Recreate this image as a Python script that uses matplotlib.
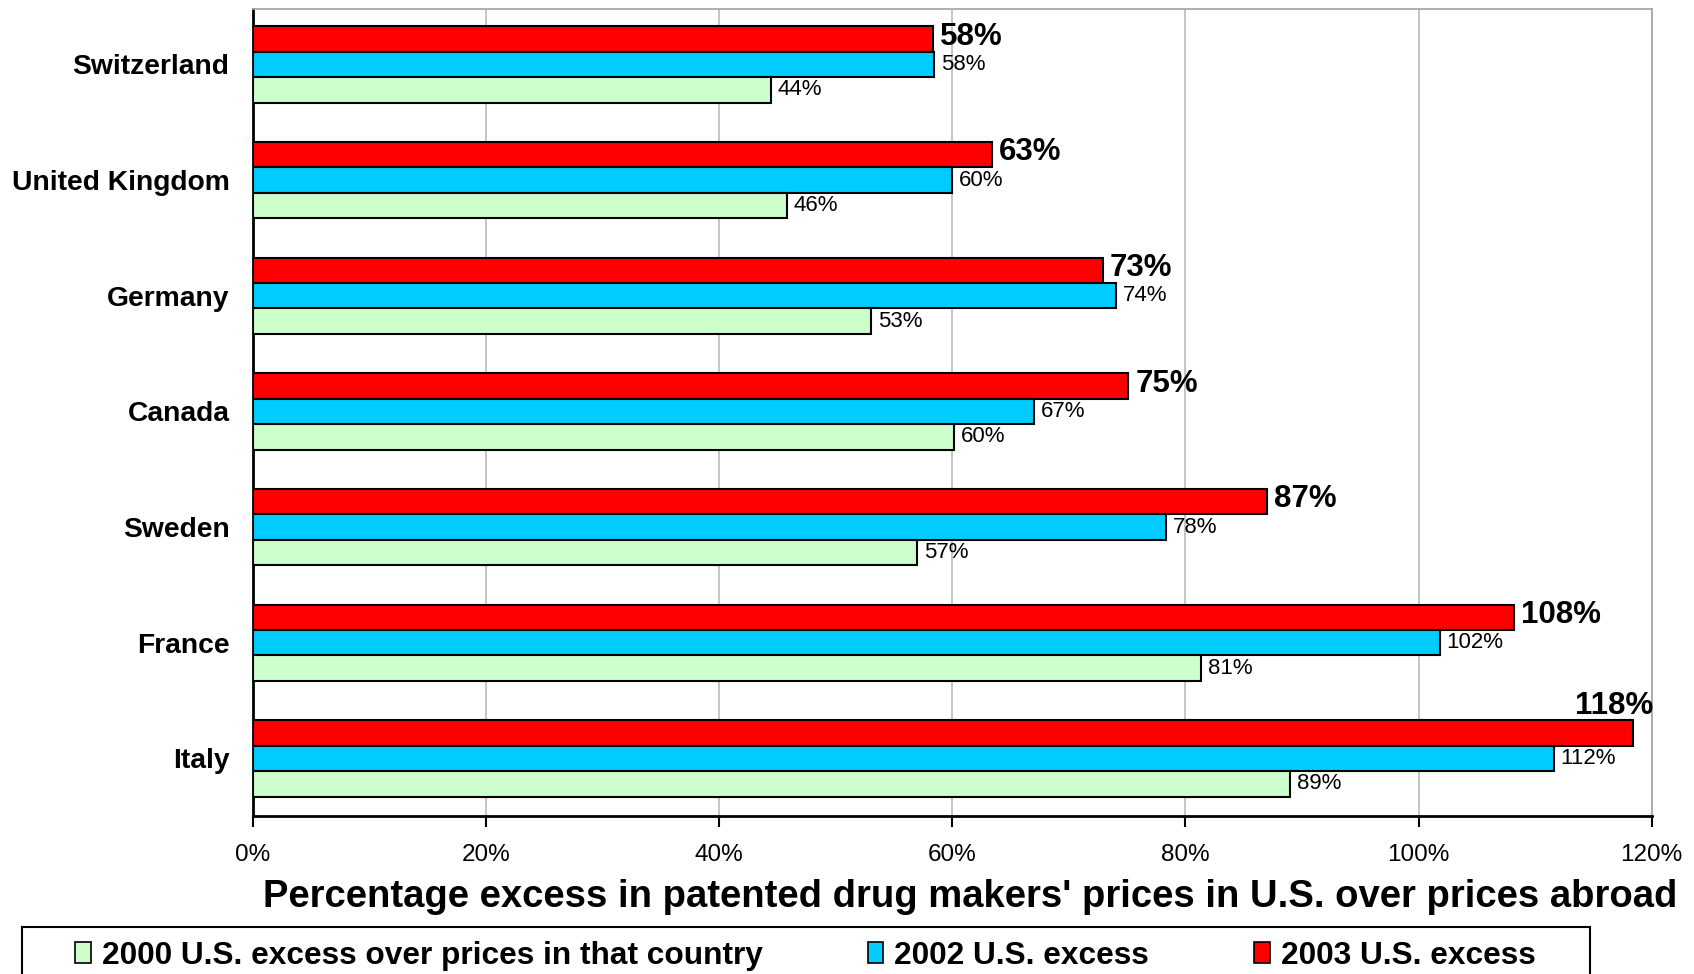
import matplotlib.pyplot as plt
import numpy as np
from matplotlib.patches import Patch, Rectangle

plt.rcParams["font.family"] = ["Liberation Sans", "DejaVu Sans"]

# data
COUNTRIES = ["Switzerland", "United Kingdom", "Germany", "Canada", "Sweden", "France", "Italy"]
EXCESS_2000 = [44.4, 45.8, 53.0, 60.1, 57.0, 81.3, 89.0]
EXCESS_2002 = [58.4, 60.0, 74.0, 67.0, 78.3, 101.8, 111.6]
EXCESS_2003 = [58.3, 63.4, 72.9, 75.1, 87.0, 108.2, 118.4]
SERIES_NAMES = ["2000 U.S. excess over prices in that country", "2002 U.S. excess", "2003 U.S. excess"]
XTICKS = [0, 20, 40, 60, 80, 100, 120]

COLORS = {"2000": "#CCFFCC", "2002": "#00CCFF", "2003": "#FF0000"}
BAR_H = 0.22
XMAX = 120
W, H = 1694, 974

fig = plt.figure(figsize=(W / 100, H / 100), dpi=100)
ax = fig.add_axes([0.1494, 0.162, 0.975 - 0.1494, 0.9908 - 0.162])

y = np.arange(len(COUNTRIES))
specs = [
    (EXCESS_2003, y - BAR_H, COLORS["2003"], True),
    (EXCESS_2002, y, COLORS["2002"], False),
    (EXCESS_2000, y + BAR_H, COLORS["2000"], False),
]
for vals, pos, color, big in specs:
    ax.barh(pos, vals, height=BAR_H, color=color, edgecolor="black", linewidth=1.5, zorder=3)
    for v, p in zip(vals, pos):
        label = f"{round(v)}%"
        if big:
            if v > XMAX - 5:
                # no room on the right: sit above the bar
                ax.text(XMAX + 0.1, p - BAR_H * 0.45, label, ha="right", va="bottom",
                        fontsize=22.5, fontweight="bold", zorder=4)
            else:
                ax.text(v + 0.6, p - 0.02, label, ha="left", va="center",
                        fontsize=22.5, fontweight="bold", zorder=4)
        else:
            ax.text(v + 0.6, p, label, ha="left", va="center", fontsize=16, zorder=4)

ax.set_xlim(0, XMAX)
ax.set_ylim(len(COUNTRIES) - 0.5, -0.48)
ax.set_xticks(XTICKS)
ax.set_xticklabels([f"{t}%" for t in XTICKS], fontsize=17.5)
ax.set_yticks(y)
ax.set_yticklabels(COUNTRIES, fontsize=20.3, fontweight="bold")
ax.tick_params(axis="y", length=0, pad=17)
ax.tick_params(axis="x", length=8, width=1.5, pad=12, direction="out")
ax.grid(axis="x", color="#c0c0c0", linewidth=1.3, zorder=0)
ax.set_axisbelow(True)

for side in ["left", "bottom"]:
    ax.spines[side].set_linewidth(2)
    ax.spines[side].set_color("black")
for side in ["top", "right"]:
    ax.spines[side].set_linewidth(1.3)
    ax.spines[side].set_color("#a8a8a8")

fig.text(1677 / W, 1 - 897 / H,
         "Percentage excess in patented drug makers' prices in U.S. over prices abroad",
         ha="right", va="center", fontsize=27.5, fontweight="bold")

# legend box runs past the bottom edge of the figure
fig.patches.append(Rectangle((22 / W, -0.05), (1590 - 22) / W, 1 - 927 / H + 0.05,
                             transform=fig.transFigure, facecolor="white",
                             edgecolor="black", linewidth=1.5, zorder=1))

handles = [Patch(facecolor=COLORS[k], edgecolor="black", linewidth=1.2) for k in ["2000", "2002", "2003"]]
leg = fig.legend(handles, SERIES_NAMES, loc="center left", ncol=3,
                 bbox_to_anchor=(75 / W, 1 - 956 / H),
                 prop={"size": 22.8, "weight": "bold"},
                 handlelength=0.5, handleheight=0.65, handletextpad=0.34,
                 columnspacing=3.32, borderpad=0, borderaxespad=0, frameon=False)
leg.set_zorder(2)

fig.savefig("out.png", dpi=100)
